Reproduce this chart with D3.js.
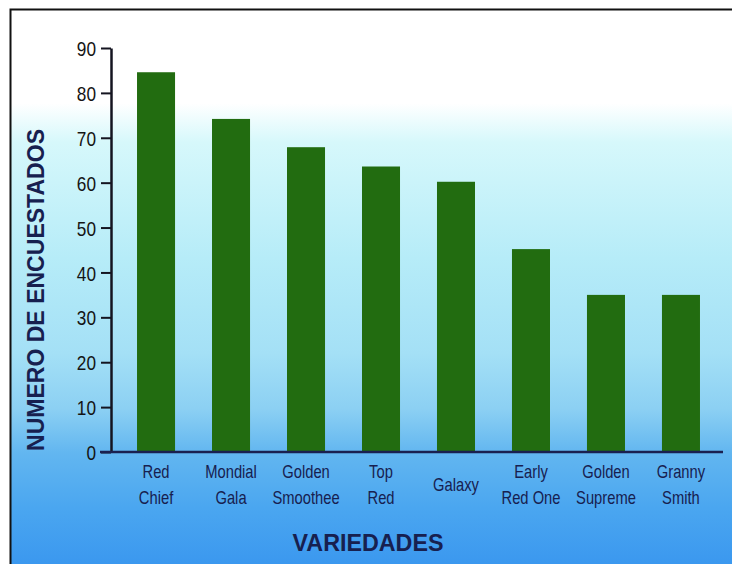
<!DOCTYPE html>
<html>
<head>
<meta charset="utf-8">
<script src="https://cdn.jsdelivr.net/npm/d3@7"></script>
<style>
    body { margin: 0; background: #fff; }
    svg { display: block; }
    .tick-label { font-family: "Liberation Sans", Arial, sans-serif; fill: #141414; }
    .cat-label { font-family: "Liberation Sans", Arial, sans-serif; fill: #17204f; }
    .axis-title { font-family: "Liberation Sans", Arial, sans-serif; font-weight: bold; fill: #17204f; }
</style>
</head>
<body>
<div id="chart"></div>
<script>
// variedades de manzana y numero de encuestados
const varieties = ['Red Chief', 'Mondial Gala', 'Golden Smoothee', 'Top Red', 'Galaxy', 'Early Red One', 'Golden Supreme', 'Granny Smith'];
const labelLines = [['Red', 'Chief'], ['Mondial', 'Gala'], ['Golden', 'Smoothee'], ['Top', 'Red'], ['Galaxy'], ['Early', 'Red One'], ['Golden', 'Supreme'], ['Granny', 'Smith']];
const counts = [84.6, 74.2, 67.9, 63.6, 60.2, 45.2, 35, 35];
const yTicks = [0, 10, 20, 30, 40, 50, 60, 70, 80, 90];

const width = 732, height = 564;
const margin = {top: 48, left: 111, bottom: 112};
const squeeze = 0.82; // condensed look of the printed labels

const svg = d3.select('#chart').append('svg')
    .attr('width', width)
    .attr('height', height);

// background gradient: white on top, blue at the bottom
const grad = svg.append('defs').append('linearGradient')
    .attr('id', 'bg')
    .attr('x1', 0).attr('y1', 0).attr('x2', 0).attr('y2', 1);
[[0, '#ffffff'], [0.17, '#ffffff'], [0.24, '#d6f8fb'], [0.45, '#b6ecf8'], [0.62, '#a4e0f6'],
 [0.72, '#8cd0f3'], [0.8, '#62b6f0'], [0.9, '#4aa6f0'], [1, '#3b98ef']]
    .forEach(([o, c]) => grad.append('stop').attr('offset', o).attr('stop-color', c));

svg.append('rect')
    .attr('x', 10).attr('y', 9)
    .attr('width', width - 10).attr('height', height - 9)
    .attr('fill', 'url(#bg)');

// frame lines (left and top)
svg.append('path')
    .attr('d', `M10.5,${height} V9.5 H${width}`)
    .attr('fill', 'none')
    .attr('stroke', '#111')
    .attr('stroke-width', 2);

const y0 = 452, y90 = 48;
const yScale = d3.scaleLinear().domain([0, 90]).range([y0, y90]);

const xScale = d3.scaleBand()
    .domain(varieties)
    .range([margin.left, 726])
    .paddingInner(0.493)
    .paddingOuter(0.347);

// bars
svg.append('g').selectAll('rect')
    .data(varieties)
    .join('rect')
    .attr('x', d => xScale(d))
    .attr('y', (d, i) => yScale(counts[i]))
    .attr('width', xScale.bandwidth())
    .attr('height', (d, i) => y0 - yScale(counts[i]))
    .attr('fill', '#226c10');

// y axis
const yAxis = d3.axisLeft(yScale)
    .tickValues(yTicks)
    .tickSize(10)
    .tickSizeOuter(0)
    .tickPadding(5);

const yAxisG = svg.append('g')
    .attr('transform', `translate(${margin.left},0)`)
    .call(yAxis);
yAxisG.select('.domain').attr('stroke', '#141420').attr('stroke-width', 2.5);
yAxisG.selectAll('.tick line').attr('stroke', '#141420').attr('stroke-width', 2);
yAxisG.selectAll('.tick text')
    .attr('class', 'tick-label')
    .style('font-size', '21px')
    .attr('x', -15 / squeeze)
    .attr('transform', `scale(${squeeze},1)`)
    .attr('dy', '0.36em');

// x axis baseline
svg.append('line')
    .attr('x1', 100).attr('x2', 723)
    .attr('y1', y0).attr('y2', y0)
    .attr('stroke', '#1a2050')
    .attr('stroke-width', 2.5);

// category labels
const catG = svg.append('g').selectAll('text')
    .data(varieties)
    .join('text')
    .attr('class', 'cat-label')
    .attr('text-anchor', 'middle')
    .style('font-size', '18px')
    .attr('transform', (d, i) => {
        const cx = xScale(d) + xScale.bandwidth() / 2;
        const ty = labelLines[i].length === 1 ? 491 : 478;
        return `translate(${cx},${ty}) scale(${squeeze},1)`;
    });

catG.selectAll('tspan')
    .data((d, i) => labelLines[i])
    .join('tspan')
    .attr('x', 0)
    .attr('dy', (d, j) => j === 0 ? 0 : 26)
    .text(d => d);

// axis titles
svg.append('text')
    .attr('class', 'axis-title')
    .attr('transform', `translate(44, 290) rotate(-90)`)
    .attr('text-anchor', 'middle')
    .style('font-size', '23px')
    .attr('textLength', 322)
    .attr('lengthAdjust', 'spacingAndGlyphs')
    .text('NUMERO DE ENCUESTADOS');

svg.append('text')
    .attr('class', 'axis-title')
    .attr('x', 368).attr('y', 551)
    .attr('text-anchor', 'middle')
    .style('font-size', '23px')
    .attr('textLength', 151)
    .attr('lengthAdjust', 'spacingAndGlyphs')
    .text('VARIEDADES');
</script>
</body>
</html>
